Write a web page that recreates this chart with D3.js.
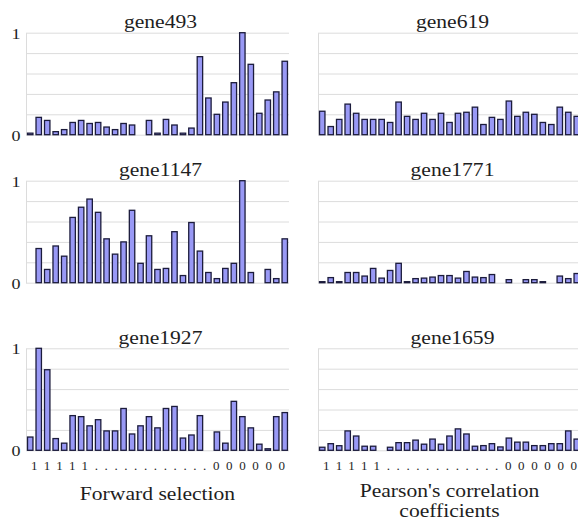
<!DOCTYPE html>
<html>
<head>
<meta charset="utf-8">
<script src="https://cdn.jsdelivr.net/npm/d3@7"></script>
<style>
  body { margin: 0; background: #fff; }
  text { font-family: "Liberation Serif", "Times New Roman", serif; fill: #1e1e1e; }
  .grid line { stroke: #dcdcdc; }
  .grid path { stroke: #dcdcdc; }
</style>
</head>
<body>
<svg width="578" height="520"></svg>
<script>
// positions 1..31 along the x axis (ordered from selected "1" to "0")
let positions = d3.range(1, 32);

let gene493 = [0.015, 0.17, 0.14, 0.03, 0.05, 0.12, 0.14, 0.11, 0.12, 0.075, 0.05, 0.11, 0.095, 0, 0.14, 0.015,
    0.15, 0.095, 0.015, 0.065, 0.765, 0.36, 0.2, 0.32, 0.51, 1.0, 0.69, 0.21, 0.34, 0.42, 0.72];
let gene619 = [0.23, 0.08, 0.15, 0.30, 0.21, 0.15, 0.15, 0.15, 0.12, 0.32, 0.18, 0.15, 0.21, 0.15, 0.21, 0.12,
    0.21, 0.22, 0.27, 0.10, 0.17, 0.15, 0.33, 0.18, 0.22, 0.20, 0.12, 0.10, 0.27, 0.22, 0.18];
let gene1147 = [0, 0.335, 0.13, 0.36, 0.26, 0.64, 0.74, 0.82, 0.69, 0.43, 0.28, 0.40, 0.71, 0.19, 0.46, 0.13,
    0.14, 0.50, 0.07, 0.59, 0.31, 0.10, 0.04, 0.14, 0.19, 1.0, 0.10, 0, 0.13, 0.04, 0.43];
let gene1771 = [0.01, 0.05, 0.01, 0.10, 0.10, 0.065, 0.14, 0.045, 0.12, 0.19, 0.01, 0.04, 0.045, 0.055, 0.07, 0.07,
    0.045, 0.11, 0.055, 0.05, 0.08, 0, 0.03, 0, 0.03, 0.03, 0.01, 0, 0.065, 0.04, 0.09];
let gene1927 = [0.13, 1.0, 0.79, 0.115, 0.07, 0.34, 0.33, 0.24, 0.30, 0.19, 0.19, 0.41, 0.16, 0.24, 0.33, 0.22,
    0.41, 0.43, 0.12, 0.15, 0.34, 0, 0.18, 0.07, 0.48, 0.33, 0.22, 0.06, 0.015, 0.33, 0.37];
let gene1659 = [0.03, 0.065, 0.045, 0.19, 0.14, 0.04, 0.04, 0, 0.03, 0.075, 0.075, 0.10, 0.06, 0.11, 0.06, 0.14,
    0.21, 0.16, 0.04, 0.046, 0.065, 0.033, 0.12, 0.08, 0.08, 0.046, 0.046, 0.065, 0.065, 0.19, 0.11];

let panelTitles = [['gene493', 'gene619'], ['gene1147', 'gene1771'], ['gene1927', 'gene1659']];
let panelValues = [[gene493, gene619], [gene1147, gene1771], [gene1927, gene1659]];
let yTicks = [0, 0.2, 0.4, 0.6, 0.8, 1];
let yLabels = ['0', '1'];
let orderLabel = '11111............000000';
let methodLabels = [['Forward selection'], ["Pearson's correlation", 'coefficients']];

let colX = [26, 318], rowY = [32.7, 180.7, 348.3];
let plotW = 263, plotH = 102;

let svg = d3.select('svg');
svg.append('rect').attr('width', 578).attr('height', 520).attr('fill', '#fff');

let x = d3.scaleBand()
    .domain(positions)
    .range([0, plotW])
    .paddingInner(0.36)
    .paddingOuter(0.18);

let y = d3.scaleLinear()
    .domain([0, 1])
    .range([plotH, 0]);

// the picture looks a bit wider than it is tall, so stretch text sideways
function stretch(sel, k) {
    sel.each(function() {
        let w = this.getComputedTextLength();
        d3.select(this).attr('textLength', w * k).attr('lengthAdjust', 'spacingAndGlyphs');
    });
}

panelValues.forEach(function(row, r) {
    row.forEach(function(values, c) {
        let g = svg.append('g')
            .attr('transform', 'translate(' + [colX[c], rowY[r]] + ')');

        g.append('g')
            .attr('class', 'grid')
            .call(d3.axisLeft(y).tickValues(yTicks).tickSize(-plotW).tickSizeOuter(0).tickFormat(''));

        g.selectAll('rect.bar')
            .data(positions.filter(function(p) { return values[p - 1] > 0; }))
            .enter()
            .append('rect')
            .attr('class', 'bar')
            .attr('x', function(p) { return x(p); })
            .attr('y', function(p) { return y(values[p - 1]); })
            .attr('width', x.bandwidth())
            .attr('height', function(p) { return plotH - y(values[p - 1]); })
            .attr('fill', '#9999f5')
            .attr('stroke', '#1c1c3c')
            .attr('stroke-width', 1.3);

        g.append('text')
            .attr('x', plotW / 2 + 3)
            .attr('y', -4.5)
            .attr('text-anchor', 'middle')
            .attr('font-size', 18)
            .text(panelTitles[r][c])
            .call(stretch, 1.2);

        if (c === 0) {
            g.selectAll('text.ylab')
                .data(yLabels)
                .enter()
                .append('text')
                .attr('class', 'ylab')
                .attr('x', -10)
                .attr('y', function(d) { return y(+d) + 6; })
                .attr('text-anchor', 'middle')
                .attr('font-size', 15)
                .text(d => d)
                .call(stretch, 1.2);
        }
    });
});

// order labels and method names under each column
colX.forEach(function(cx, c) {
    svg.append('text')
        .attr('x', cx + 5)
        .attr('y', 470)
        .attr('font-size', 13)
        .attr('textLength', 254)
        .attr('lengthAdjust', 'spacing')
        .text(orderLabel);

    svg.selectAll('text.method' + c)
        .data(methodLabels[c])
        .enter()
        .append('text')
        .attr('class', 'method' + c)
        .attr('x', cx + plotW / 2)
        .attr('y', function(d, i) { return (c === 0 ? 500 : 497) + i * 20; })
        .attr('text-anchor', 'middle')
        .attr('font-size', 18)
        .text(d => d)
        .call(stretch, 1.2);
});
</script>
</body>
</html>
